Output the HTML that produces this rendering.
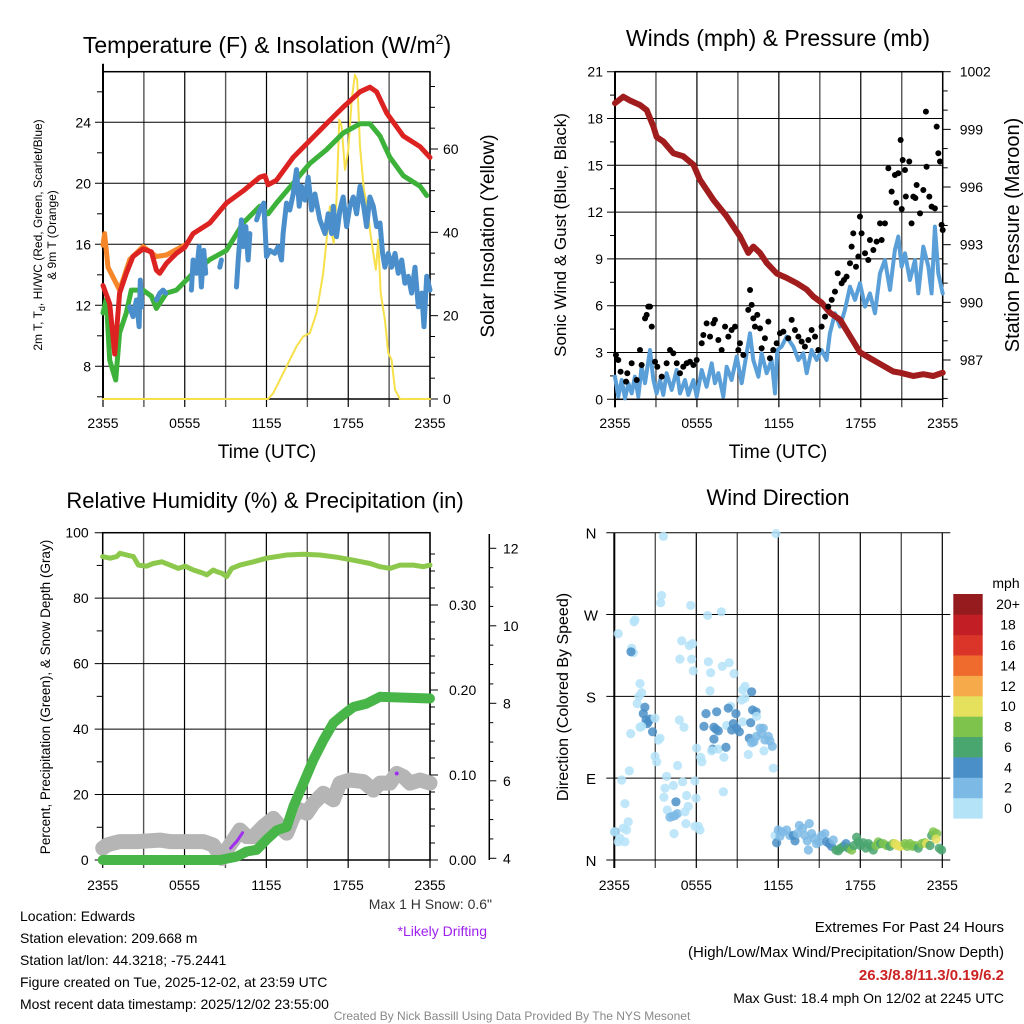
<!DOCTYPE html>
<html><head><meta charset="utf-8"><style>
html,body{margin:0;padding:0;background:#fff;}
svg{display:block;font-family:"Liberation Sans",sans-serif;}
</style></head><body>
<svg id="c" width="1024" height="1024" viewBox="0 0 1024 1024"></svg>
<script>
// ===== Panel 1 data (hours since 2355, values) =====
const redT=[0,0.49,0.86,1.22,1.71,2.2,2.94,3.55,3.92,4.16,4.65,5.39,6.0,6.61,7.84,9.06,10.29,11.51,11.88,12.12,12.73,13.96,15.18,16.4,17.63,18.86,19.59,20.08,20.82,22.04,23.27,24];
const redV=[13.3,12.1,8.8,12.8,14.1,15.2,15.7,15.5,14.3,14.1,14.75,15.4,15.8,16.7,17.4,18.7,19.5,20.4,20.5,19.9,20.2,21.7,22.8,23.9,25.0,26.0,26.3,26.0,24.6,23.1,22.4,21.7];
const orT=[0,0.12,0.37,1.22,1.96,2.94,3.92,4.65,6.0];
const orV=[15.95,16.7,14.5,13.0,15.0,15.85,15.2,15.3,15.95];
const grT=[0,0.24,0.49,0.93,1.22,1.71,2.08,2.94,3.55,3.92,4.65,5.39,6.61,7.84,9.06,10.29,11.51,12.12,12.73,13.96,15.18,16.4,17.63,18.86,19.59,20.33,21.06,22.04,23.27,23.76];
const grV=[11.5,12.4,8.4,7.1,10.2,11.5,13.0,13.0,12.6,11.8,12.8,13.0,14.1,15.0,15.6,17.4,18.5,18.0,18.7,20.0,21.3,22.2,23.3,23.9,23.9,23.1,21.7,20.5,19.8,19.2];
const blT=[1.96,2.2,2.45,2.65,2.74,2.84,null,3.92,4.16,4.41,4.6,null,6.49,6.61,6.86,7.05,7.22,7.4,7.54,null,8.57,8.69,null,9.8,9.92,10.16,10.29,10.48,10.65,10.78,null,11.27,11.51,11.8,12.0,12.24,12.61,12.86,13.1,13.22,13.47,13.71,13.96,14.2,14.4,14.57,14.82,15.06,15.31,15.55,15.92,16.29,16.53,16.78,16.9,17.14,17.39,17.63,17.88,18.12,18.37,18.61,18.86,19.1,19.35,19.59,19.84,20.08,20.33,20.52,20.69,20.94,21.18,21.43,21.67,21.92,22.16,22.41,22.65,22.9,23.14,23.39,23.56,23.76,24.0];
const blV=[11.91,11.26,12.35,10.6,13.65,11.9,null,12.35,12.79,13.0,12.8,null,13.0,14.97,14.1,15.85,13.2,15.6,14.1,null,14.5,14.97,null,13.2,14.97,17.6,15.85,17.16,14.97,16.7,null,17.6,18.25,18.7,15.2,15.6,15.4,15.85,14.97,16.7,18.7,18.25,19.3,20.9,18.5,19.8,18.9,20.4,18.25,19.3,17.6,16.7,18.0,16.7,18.5,16.5,18.25,19.1,17.16,18.5,19.1,18.0,19.8,18.7,17.16,19.1,18.5,17.16,17.4,15.4,14.5,15.4,14.5,15.4,14.1,14.97,13.44,13.9,12.8,14.5,11.9,12.8,10.6,13.9,13.0];
const solT=[0,12.12,12.49,12.98,13.71,14.2,14.69,15.18,15.67,16.16,16.41,16.65,16.78,16.94,17.14,17.34,17.51,17.76,18.0,18.25,18.49,18.66,18.86,19.15,19.4,19.59,19.84,20.03,20.2,20.38,20.69,20.94,21.18,21.43,21.8,24];
const solV=[0,0,1.4,4.6,9.4,12.6,15,15.8,20.6,30.2,38.2,46.2,39.8,37.4,47.8,67,65.4,55,59.8,71.8,77.8,76.6,60.6,50.2,46.2,40.6,35,31,38.2,25.4,19,11,9.4,2.2,0,0];
const p1Left=[8,12,16,20,24], p1Right=[0,20,40,60];
const timeLabels=["2355","0555","1155","1755","2355"];
// ===== Panel 2 data =====
const presT=[0,0.61,1.1,1.83,2.32,2.81,3.05,3.54,4.27,5.0,5.74,6.22,7.2,8.18,9.15,9.76,10.13,10.62,11.11,11.84,12.57,13.3,14.04,14.52,15.13,15.74,16.48,17.21,17.94,18.67,19.65,20.38,20.87,21.85,22.58,23.31,24];
const presV=[1000.36,1000.7,1000.5,1000.27,1000.0,999.15,998.6,998.37,997.76,997.6,997.16,996.38,995.34,994.47,993.44,992.57,992.9,992.57,992.05,991.5,991.27,991.0,990.67,990.3,989.98,989.46,989.1,988.25,987.4,987.1,986.7,986.4,986.34,986.17,986.26,986.17,986.34];
const windT=[0,0.24,0.49,0.73,0.98,1.22,1.46,1.71,1.95,2.2,2.56,2.81,3.05,3.3,3.54,3.78,4.15,4.52,4.76,5.13,5.37,5.74,5.98,6.35,6.71,7.08,7.32,7.57,7.93,8.18,8.54,8.91,9.28,9.64,9.89,10.13,10.5,10.74,11.11,11.47,11.72,11.89,12.2,12.57,13.06,13.43,13.79,14.04,14.4,14.77,15.13,15.5,15.74,16.11,16.48,16.84,17.21,17.58,17.94,18.31,18.67,19.04,19.41,19.77,20.14,20.5,20.75,20.99,21.24,21.6,21.97,22.21,22.58,22.95,23.19,23.43,23.68,24];
const windV=[1.45,0.17,1.24,0.06,1.03,0.38,1.45,0.17,2.09,1.03,3.16,1.24,0.38,1.24,0.28,1.67,0.6,1.88,0.38,1.24,0.28,1.24,0.17,1.88,0.81,2.31,1.03,1.67,0.17,2.09,1.24,2.74,1.03,2.95,4.23,2.52,1.45,2.95,1.67,2.52,0.38,3.16,3.38,4.02,3.38,2.52,2.95,1.67,3.16,2.52,3.16,2.52,4.23,5.51,4.66,5.73,7.22,6.37,7.44,5.94,6.79,5.51,8.08,8.93,7.01,9.57,10.43,8.5,9.36,7.65,8.93,6.79,9.79,8.5,6.79,11.07,8.08,6.79];
const gustT=[0.07,0.24,0.41,0.81,0.9,1.22,1.59,1.83,1.95,2.2,2.32,2.44,2.56,2.69,2.93,3.1,3.42,3.78,4.03,4.27,4.52,4.76,5.0,5.25,5.49,5.74,5.98,6.35,6.47,6.71,6.96,7.2,7.32,7.57,7.81,8.06,8.3,8.54,8.79,9.03,9.15,9.4,9.76,9.89,10.01,10.13,10.25,10.42,10.62,10.74,10.98,11.23,11.35,11.59,11.84,12.08,12.33,12.69,12.94,13.18,13.43,13.67,13.91,14.16,14.4,14.65,14.89,15.13,15.38,15.62,15.87,16.11,16.31,16.6,16.77,16.96,17.21,17.33,17.45,17.65,17.82,17.94,18.06,18.31,18.55,18.67,18.92,19.16,19.41,19.53,19.77,20.02,20.26,20.5,20.75,20.92,21.07,21.24,21.55,21.72,21.85,22.09,22.34,22.58,22.82,22.77,23.02,23.19,23.43,23.56,23.68,23.8,23.92,24.0,20.6,21.3,22.0,21.0];
const gustV=[2.84,2.52,1.77,1.13,1.67,2.31,1.24,3.16,2.2,5.19,5.41,5.94,5.94,4.66,2.41,2.09,1.45,2.31,3.16,2.95,2.31,1.67,2.09,2.31,2.41,2.2,2.52,3.59,4.12,4.87,4.02,4.87,5.09,3.8,3.16,4.66,4.02,4.44,4.66,3.16,3.59,2.84,5.73,7.01,6.05,5.19,4.66,5.41,4.55,3.27,3.91,4.98,2.63,3.16,3.59,4.23,4.34,3.91,5.09,4.44,4.02,3.7,3.38,3.8,4.44,4.02,3.16,4.66,5.3,5.94,6.37,6.9,8.08,7.44,7.65,7.86,8.72,9.79,10.64,8.5,9.15,11.71,10.64,9.36,8.93,10.21,9.57,10.11,11.28,10.21,11.28,14.81,13.31,14.38,14.49,16.62,15.34,14.7,15.24,11.28,12.99,13.74,11.92,13.42,14.91,18.44,12.99,12.35,12.24,17.48,15.77,15.24,11.18,10.85,12.6,13.0,12.9,12.2];
const windLeft=[0,3,6,9,12,15,18,21], presRight=[987,990,993,996,999,1002];
// ===== Panel 3 data =====
const rhT=[0,0.54,1.03,1.27,1.76,2.25,2.62,3.23,3.71,4.33,4.94,5.55,6.04,6.65,7.38,7.63,8.11,8.36,8.73,9.09,9.46,10.07,11.05,12.02,13.49,14.71,15.93,17.16,18.38,19.6,20.33,21.07,21.8,22.78,23.51,24];
const rhV=[92.7,92.2,92.7,93.7,93.2,92.7,90.1,89.8,90.6,91.1,90.1,89.1,89.8,88.6,87.6,87.1,88.6,88.1,87.6,86.6,89.1,90.1,91.1,92.2,93.2,93.4,93.2,92.5,91.6,90.6,89.6,89.1,90.1,90.1,89.6,90.1];
const prT=[0,8.6,9.83,10.56,11.29,12.02,12.76,13.49,13.98,14.71,15.45,16.18,16.91,17.65,18.38,19.36,20.33,24];
const prV=[0,0,0.004,0.01,0.012,0.024,0.035,0.039,0.063,0.09,0.118,0.141,0.161,0.171,0.18,0.184,0.192,0.19];
const snT=[0,0.29,0.78,1.27,2.49,4.2,4.93,6.16,7.38,8.11,8.73,9.09,9.58,10.07,10.56,11.05,11.78,12.51,13.25,13.49,13.98,14.47,14.96,15.45,16.18,16.91,17.4,18.13,19.11,19.85,20.33,21.07,21.56,22.04,22.53,23.27,24];
const snV=[4.26,4.34,4.39,4.43,4.43,4.47,4.43,4.43,4.43,4.34,4.0,4.22,4.47,4.73,4.56,4.56,4.82,5.03,4.73,4.65,5.08,5.25,5.16,5.42,5.68,5.51,5.94,6.02,5.98,5.76,5.94,5.94,6.19,6.11,5.94,6.02,5.94];
const drT=[9.38,9.6,9.82,10.26], drV=[4.26,4.35,4.43,4.66];
const drDotT=[21.56], drDotV=[6.19];
const rhLeft=[0,20,40,60,80,100], prRight=[0,0.1,0.2,0.3], prLabels=["0.00","0.10","0.20","0.30"], snRight=[4,6,8,10,12];
// ===== Panel 4 data =====
const dirT=[0.05,0,0.29,0.41,0.78,0.66,0.9,1.02,0.54,0.78,1.1,0.29,1.2,1.51,1.44,1.27,1.39,1.22,1.88,2.0,1.68,1.8,2.24,2.12,2.32,2.49,2.61,2.41,2.8,2.0,1.88,2.98,3.22,3.34,2.98,3.1,3.59,3.46,3.39,3.83,3.71,3.63,3.88,4.07,4.27,4.44,4.61,4.37,4.51,4.32,4.63,4.93,4.8,5.0,5.24,5.29,5.41,5.17,4.76,5.1,5.59,5.49,5.73,5.66,5.78,5.9,6.02,5.98,6.15,6.27,6.32,6.41,6.83,6.88,7.05,7.0,6.56,6.71,7.49,7.29,7.44,7.61,7.29,7.2,7.12,7.61,8.02,8.17,7.83,7.9,8.41,8.76,8.22,8.51,8.34,8.71,8.59,8.9,8.95,9.15,9.39,9.56,9.39,9.32,9.56,10.05,10.12,10.37,9.98,10.41,9.88,10.05,10.22,10.41,10.66,10.9,10.78,11.02,11.27,11.39,11.56,10.95,9.8,11.63,7.98,5.9,11.83,
11.76,11.88,12.0,12.12,12.32,12.61,12.85,13.1,13.22,13.39,13.54,13.78,13.95,14.12,14.2,14.27,14.44,14.61,14.8,15.0,15.17,15.41,15.54,15.73,15.9,16.02,16.22,16.39,16.56,16.76,16.95,17.12,17.37,17.54,17.73,17.85,18.02,18.22,18.41,18.59,18.76,18.95,19.15,19.32,19.49,19.68,19.93,20.17,20.41,20.54,20.71,20.9,21.1,21.27,21.44,21.63,21.83,22.0,22.24,22.49,22.73,22.85,23.1,23.22,23.34,23.59,23.54,23.78,23.95];
const dirV=[31,31,20,24,20,35,33,42,88,62,98,249,139,264,262,233,228,229,194,184,172,180,168,161,154,152,155,150,141,147,146,156,132,134,114,108,356,291,283,92,79,69,55,47,48,49,51,29,64,82,104,241,221,86,40,71,59,53,154,146,280,236,238,221,208,87,123,68,37,33,113,108,269,218,206,186,147,161,163,146,144,142,133,122,120,122,113,124,273,213,217,205,148,169,167,150,143,161,145,141,152,191,187,176,178,185,165,163,151,158,134,129,130,136,145,145,139,132,136,131,125,120,116,101,75,37,359,
27,19,33,26,31,33,27,27,21,29,38,35,27,21,11,40,29,24,18,20,27,29,20,18,15,22,11,10,13,15,18,13,11,16,25,20,16,19,13,18,15,11,16,20,18,18,16,15,18,18,16,15,16,18,15,18,15,16,13,18,19,18,16,27,31,29,23,13,11];
const dirS=[4,1,1,1,1,1,1,1,1,1,1,1,1,1,1,1,1,4,1,1,1,1,4,4,4,4,4,4,4,1,1,1,1,1,1,1,1,1,1,1,1,1,1,3,3,3,3,1,4,1,1,1,1,1,1,1,1,1,1,1,1,1,1,1,1,1,1,1,1,1,1,1,1,1,1,1,4,4,4,4,4,4,4,4,1,1,1,4,1,1,1,1,1,1,4,4,4,4,4,5,1,1,1,1,1,4,4,4,4,1,5,3,3,3,3,3,3,3,3,3,3,1,1,1,1,1,1,
1,4,3,3,3,3,3,4,4,3,3,3,3,3,3,3,3,3,3,3,3,3,4,4,4,3,7,7,7,7,4,7,9,7,7,7,7,7,7,7,7,7,9,9,7,9,9,7,9,11,11,11,11,9,9,9,9,9,7,9,9,11,7,7,9,9,11,7,7];
const dirLabels=["N","E","S","W","N"], dirTicks=[0,90,180,270,360];
const cbLabels=["0","2","4","6","8","10","12","14","16","18","20+"];
const cbColors=["#b4e3f8","#7cbae5","#4a8fc7","#4aa66f","#7ec34c","#e6e15c","#f6aa4a","#ee6a2d","#db3429","#c11e26","#951b1f"];

const NS="http://www.w3.org/2000/svg", svg=document.getElementById('c');
function mk(tag,attrs,parent){const e=document.createElementNS(NS,tag);for(const k in attrs)e.setAttribute(k,attrs[k]);(parent||svg).appendChild(e);return e;}
function txt(s,x,y,size,anchor,parent,extra){const e=mk('text',Object.assign({x:x,y:y,'font-size':size,'text-anchor':anchor||'middle',fill:'#000'},extra||{}),parent);e.textContent=s;return e;}
function lin(d0,d1,r0,r1){return v=>r0+(v-d0)/(d1-d0)*(r1-r0);}
function pathFrom(T,V,sx,sy){let d="",pen=false;for(let i=0;i<T.length;i++){if(T[i]===null||V[i]===null){pen=false;continue;}d+=(pen?"L":"M")+sx(T[i]).toFixed(1)+","+sy(V[i]).toFixed(1);pen=true;}return d;}
function series(g,T,V,sx,sy,color,w,name){const p=mk('path',{d:pathFrom(T,V,sx,sy),fill:'none',stroke:color,'stroke-width':w,'stroke-linejoin':'round','stroke-linecap':'round'},g);

return p;}
function grid(g,L,R,T,B,sx,hVals,sy,ext){
  for(let h=0;h<=24;h+=3){const x=sx(h);const l=mk('line',{x1:x,y1:T,x2:x,y2:B+8,stroke:(h%6==0)?'#000':'#555','stroke-width':(h%6==0)?1.2:1.4},g);
  
  }
  hVals.forEach(v=>{const y=sy(v);const l=mk('line',{x1:L-8,y1:y,x2:R+(ext||0),y2:y,stroke:'#000','stroke-width':1},g);
  
  });
}
function xlabels(g,sx,y){[0,6,12,18,24].forEach((h,i)=>{const t=txt(timeLabels[i],sx(h),y,14,'middle',g);

});}

// ===== Panel 1 =====
(function(){
const g=mk('g',{});
const L=103,R=430,T=71.7,B=399;
const sx=lin(0,24,L,R), sy=lin(8,24,366.3,122.3), sr=lin(0,60,399,149);
grid(g,L,R,T,B,sx,p1Left,sy,0);
for(let v=6;v<=26;v+=2) if(v%4) mk('line',{x1:L-6,y1:sy(v),x2:L,y2:sy(v),stroke:'#000'},g);
for(let v=0;v<=75;v+=5){mk('line',{x1:R,y1:sr(v),x2:R+(v%20?5:8),y2:sr(v),stroke:'#000'},g);}
mk('rect',{x:L,y:T,width:R-L,height:B-T,fill:'none',stroke:'#000','stroke-width':1.5},g);
mk('line',{x1:L,y1:T-8,x2:L,y2:B,stroke:'#000','stroke-width':2},g);
series(g,solT,solV,sx,sr,'#f7e04a',2,'solar-insolation-line');
series(g,orT,orV,sx,sy,'#f5862a',5,'9m-temperature-line');
series(g,grT,grV,sx,sy,'#3db23a',5,'dewpoint-line');
series(g,blT,blV,sx,sy,'#4a8fcb',5,'heat-index-windchill-line');
series(g,redT,redV,sx,sy,'#dd2222',5,'2m-temperature-line');
p1Left.forEach(v=>{const t=txt(String(v),L-12,sy(v)+5,14,'end',g);});
p1Right.forEach(v=>{const t=txt(String(v),R+13,sr(v)+5,14,'start',g);});
xlabels(g,sx,428);
const t1=txt('',267,53,23,'middle',g);
t1.innerHTML='Temperature (F) &amp; Insolation (W/m<tspan dy="-9" font-size="14">2</tspan><tspan dy="9">)</tspan>';
const xa=txt('Time (UTC)',267,458,19,'middle',g);
const ya=mk('text',{transform:'translate(42,235) rotate(-90)','font-size':12,'text-anchor':'middle'},g);
ya.innerHTML='<tspan x="0" dy="0">2m T, T<tspan font-size="9" dy="3">d</tspan><tspan dy="-3">, HI/WC (Red, Green, Scarlet/Blue)</tspan></tspan><tspan x="0" dy="14">&amp; 9m T (Orange)</tspan>';
const yr=txt('Solar Insolation (Yellow)',0,0,19,'middle',g,{transform:'translate(494,236) rotate(-90)'});
})();

// ===== Panel 2 =====
(function(){
const g=mk('g',{});
const L=615,R=942.7,T=71.7,B=399.3;
const sx=lin(0,24,L,R), sy=lin(0,21,B,T), sp=lin(987,1002,360,71.7);
grid(g,L,R,T,B,sx,windLeft,sy,0);
for(let v=1.5;v<21;v+=3) mk('line',{x1:L-5,y1:sy(v),x2:L,y2:sy(v),stroke:'#000'},g);
for(let v=985;v<=1002;v+=1){mk('line',{x1:R,y1:sp(v),x2:R+((v-987)%3?5:8),y2:sp(v),stroke:'#000'},g);}
mk('rect',{x:L,y:T,width:R-L,height:B-T,fill:'none',stroke:'#000','stroke-width':1.5},g);
mk('line',{x1:L,y1:T,x2:L,y2:B+8,stroke:'#000','stroke-width':2},g);
series(g,windT,windV,sx,sy,'#5a9fd8',4,'sonic-wind-line');
series(g,presT,presV,sx,sp,'#a11c1c',6,'station-pressure-line');
gustT.forEach((t,i)=>{const c=mk('circle',{cx:sx(t),cy:sy(gustV[i]),r:3,fill:'#000'},g);

});
windLeft.forEach(v=>{const t=txt(String(v),L-12,sy(v)+5,14,'end',g);});
presRight.forEach(v=>{const t=txt(String(v),R+17,sp(v)+5,14,'start',g);});
xlabels(g,sx,428);
const t1=txt('Winds (mph) & Pressure (mb)',778,46,23,'middle',g);
const xa=txt('Time (UTC)',778,458,19,'middle',g);
const ya=txt('Sonic Wind & Gust (Blue, Black)',0,0,17,'middle',g,{transform:'translate(566,235) rotate(-90)'});
const yr=txt('Station Pressure (Maroon)',0,0,20,'middle',g,{transform:'translate(1019,235) rotate(-90)'});
})();

// ===== Panel 3 =====
(function(){
const g=mk('g',{});
const L=102.7,R=430,T=532.7,B=860;
const sx=lin(0,24,L,R), sy=lin(0,100,B,T), sp=lin(0,0.1,860,775), ss=lin(4,12,858.3,548.3);
grid(g,L,R,T,B,sx,rhLeft,sy,0);
for(let v=10;v<100;v+=20) mk('line',{x1:L-6,y1:sy(v),x2:L,y2:sy(v),stroke:'#000'},g);
for(let v=0;v<=0.38;v+=0.02){mk('line',{x1:R,y1:sp(v),x2:R+(Math.round(v*100)%10?5:8),y2:sp(v),stroke:'#000'},g);}
mk('rect',{x:L,y:T,width:R-L,height:B-T,fill:'none',stroke:'#000','stroke-width':1.5},g);
mk('line',{x1:489.3,y1:534,x2:489.3,y2:860,stroke:'#000','stroke-width':1.5},g);
for(let v=4;v<=12.3;v+=0.5){mk('line',{x1:489.3,y1:ss(v),x2:489.3+(v%2?4:7),y2:ss(v),stroke:'#000'},g);}
series(g,snT,snV,sx,ss,'#b5b5b5',15,'snow-depth-line');
series(g,prT,prV,sx,sp,'#48b548',10,'precipitation-line');
series(g,rhT,rhV,sx,sy,'#8cc84b',5,'relative-humidity-line');
series(g,drT,drV,sx,ss,'#a030f0',3,'drifting-line');
drDotT.forEach((t,i)=>{const c=mk('circle',{cx:sx(t),cy:ss(drDotV[i]),r:2,fill:'#a030f0'},g);});
rhLeft.forEach(v=>{const t=txt(String(v),L-14,sy(v)+5,14,'end',g);});
prRight.forEach((v,i)=>{const t=txt(prLabels[i],R+19,sp(v)+5,14,'start',g);});
snRight.forEach(v=>{const t=txt(String(v),503,ss(v)+5,14,'start',g);});
xlabels(g,sx,890);
const t1=txt('Relative Humidity (%) & Precipitation (in)',265,508,22,'middle',g);
const ya=txt('Percent, Precipitation (Green), & Snow Depth (Gray)',0,0,13.5,'middle',g,{transform:'translate(50,697) rotate(-90)'});
})();

// ===== Panel 4 =====
(function(){
const g=mk('g',{});
const L=614.3,R=942.3,T=532.7,B=860;
const sx=lin(0,24,L,R), sy=lin(0,360,B,T);
grid(g,L,R,T,B,sx,dirTicks,sy,8);
mk('line',{x1:L,y1:T,x2:L,y2:B+8,stroke:'#000','stroke-width':2},g);
function col(s){let i=Math.min(10,Math.floor(s/2));return cbColors[i];}
dirT.forEach((t,i)=>{const c=mk('circle',{cx:sx(t),cy:sy(dirV[i]),r:4.6,fill:col(dirS[i]),'fill-opacity':0.85},g);

});
dirTicks.forEach((v,i)=>{const t=txt(dirLabels[i],591,sy(v)+6,15,'middle',g);});
xlabels(g,sx,890);
const t1=txt('Wind Direction',778,505,22,'middle',g);
const ya=txt('Direction (Colored By Speed)',0,0,16,'middle',g,{transform:'translate(568,697) rotate(-90)'});
const cb=mk('g',{},g);
const h=(818.3-594)/11;
cbColors.forEach((c,i)=>{const r=mk('rect',{x:953.3,y:818.3-(i+1)*h,width:29.4,height:h+0.3,fill:c},cb);
const t=txt(cbLabels[i],1008,818.3-(i+0.5)*h+5,14,'middle',cb);});
const mph=txt('mph',1006,588,14,'middle',cb);
})();

// ===== Footer text =====
(function(){
const g=mk('g',{});
const lines=["Location: Edwards","Station elevation: 209.668 m","Station lat/lon: 44.3218; -75.2441","Figure created on Tue, 2025-12-02, at 23:59 UTC","Most recent data timestamp: 2025/12/02 23:55:00"];
lines.forEach((s,i)=>{const t=txt(s,20,921+i*22,14,'start',g);});
const a=txt('Max 1 H Snow: 0.6"',492,909,14,'end',g,{fill:'#333'});
const b=txt('*Likely Drifting',487,936,14,'end',g,{fill:'#a020f0'});
const c1=txt('Extremes For Past 24 Hours',1004,932,15,'end',g);
const c2=txt('(High/Low/Max Wind/Precipitation/Snow Depth)',1004,957,15,'end',g);
const c3=txt('26.3/8.8/11.3/0.19/6.2',1004,980,15,'end',g,{fill:'#cc2222','font-weight':'bold'});
const c4=txt('Max Gust: 18.4 mph On 12/02 at 2245 UTC',1004,1003,14,'end',g);
const f=txt('Created By Nick Bassill Using Data Provided By The NYS Mesonet',512,1020,12,'middle',g,{fill:'#888'});
})();
</script>
</body></html>
